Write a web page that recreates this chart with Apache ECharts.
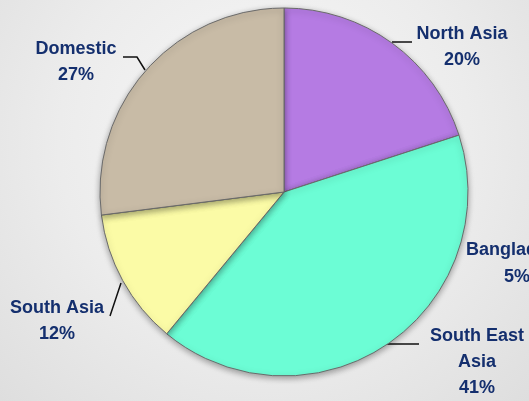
<!DOCTYPE html>
<html>
<head>
<meta charset="utf-8">
<script src="https://cdn.jsdelivr.net/npm/echarts@6/dist/echarts.min.js"></script>
<style>
  html, body { margin: 0; padding: 0; }
  #pic0 {
    width: 529px; height: 401px;
    background: radial-gradient(ellipse at 50% 35%, #f8f8f8 0%, #ececec 55%, #dedede 100%);
  }
</style>
</head>
<body>
<div id="pic0"></div>
<script>
// slices, clockwise from 12 o'clock
var names = ['North Asia', 'South East\nAsia', 'South Asia', 'Domestic'];
var shares = [20, 41, 12, 27];
var colors = ['#b57be3', '#6cfdd5', '#fbfba6', '#c8bba6'];
// label that sits outside the pie without a slice
var extraName = 'Bangladesh';
var extraShare = 5;

// label anchors and leader lines (pixels)
var labelPos = [
    { x: 462, y: 47, line: [[392, 42], [412, 42]] },
    { x: 477, y: 362, line: [[383, 344], [419, 344]] },
    { x: 57, y: 321, line: [[121, 283], [110, 316]] },
    { x: 76, y: 62, line: [[145, 70], [137, 57], [123, 57]] }
];

var myChart = echarts.init(document.getElementById('pic0'));

var pieData = [];
for (var i = 0; i < names.length; i++) {
    pieData.push({ name: names[i], value: shares[i], itemStyle: { color: colors[i] } });
}

option = {
    animation: false,
    graphic: [
        {
            type: 'text',
            x: 517,
            y: 264,
            style: {
                text: extraName + '\n' + extraShare + '%',
                font: 'bold 18px "Liberation Sans", Arial, sans-serif',
                lineHeight: 27,
                fill: '#142f6e',
                align: 'center',
                verticalAlign: 'middle'
            }
        }
    ],
    series: [
        {
            type: 'pie',
            center: [284, 192],
            radius: 184,
            startAngle: 90,
            clockwise: true,
            itemStyle: {
                borderColor: '#6a6a6a',
                borderWidth: 1,
                shadowColor: 'rgba(0,0,0,0.35)',
                shadowBlur: 6,
                shadowOffsetY: 2
            },
            label: {
                show: true,
                align: 'center',
                overflow: 'none',
                fontFamily: 'Liberation Sans',
                fontWeight: 'bold',
                fontSize: 18,
                lineHeight: 26,
                color: '#142f6e',
                formatter: function (p) { return p.name + '\n' + shares[p.dataIndex] + '%'; }
            },
            labelLine: {
                show: true,
                lineStyle: { color: '#111', width: 1.5 }
            },
            labelLayout: function (params) {
                var pos = labelPos[params.dataIndex];
                return {
                    x: pos.x,
                    y: pos.y,
                    align: 'center',
                    verticalAlign: 'middle',
                    width: 200,
                    labelLinePoints: pos.line
                };
            },
            emphasis: { disabled: true },
            data: pieData
        }
    ]
};

myChart.setOption(option);
</script>
</body>
</html>
